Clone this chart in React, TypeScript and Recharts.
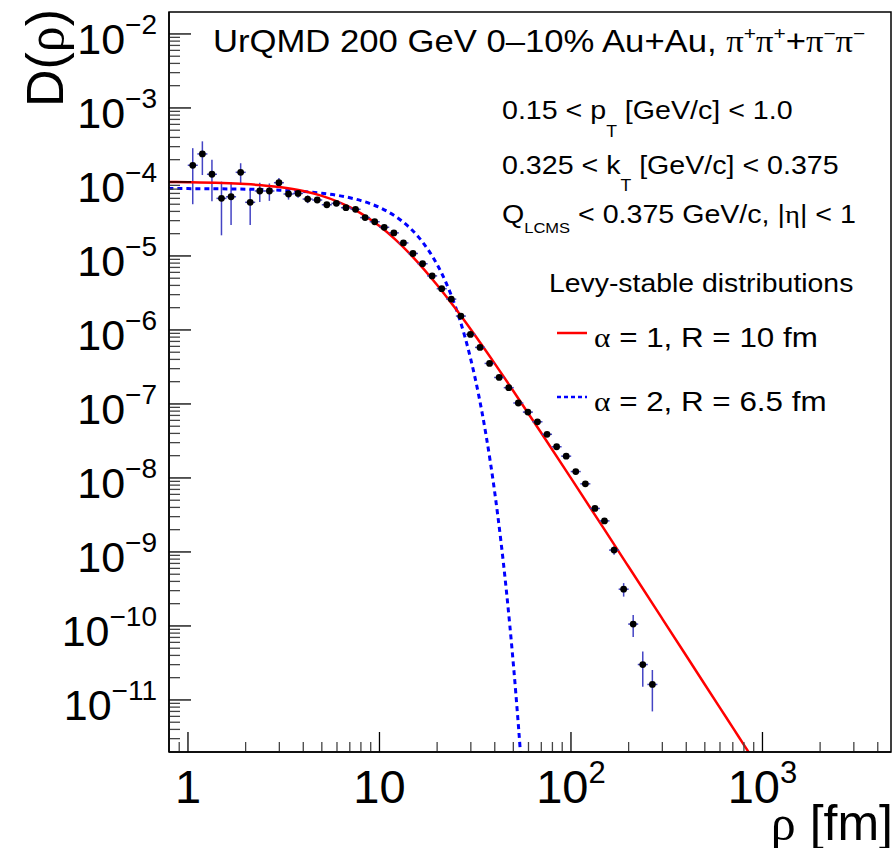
import React from 'react';
import { ComposedChart, Line, Scatter, XAxis, YAxis, ErrorBar } from 'recharts';

// UrQMD data points: rho [fm], D(rho), error
const rho = [1.059, 1.189, 1.334, 1.496, 1.679, 1.884, 2.113, 2.371, 2.661, 2.985, 3.35, 3.758, 4.217, 4.732, 5.309, 5.957, 6.683, 7.499, 8.414, 9.441, 10.59, 11.89, 13.34, 14.96, 16.79, 18.84, 21.13, 23.71, 26.61, 29.85, 33.5, 37.58, 42.17, 47.32, 53.09, 59.57, 66.83, 74.99, 84.14, 94.41, 105.9, 118.9, 133.4, 149.6, 167.9, 188.4, 211.3, 237.1, 266.1];
const dVal = [1.68e-4, 2.39e-4, 1.27e-4, 6.0e-5, 6.31e-5, 1.35e-4, 5.31e-5, 7.55e-5, 7.55e-5, 9.77e-5, 6.87e-5, 7.0e-5, 5.87e-5, 5.7e-5, 4.92e-5, 5.14e-5, 4.49e-5, 4.27e-5, 3.3e-5, 2.9e-5, 2.44e-5, 2.05e-5, 1.5e-5, 1.08e-5, 7.85e-6, 5.38e-6, 3.61e-6, 2.61e-6, 1.54e-6, 8.71e-7, 5.81e-7, 3.53e-7, 2.28e-7, 1.66e-7, 1.03e-7, 7.76e-8, 5.74e-8, 3.89e-8, 2.64e-8, 1.97e-8, 1.22e-8, 8.33e-9, 3.87e-9, 2.63e-9, 1.06e-9, 3.14e-10, 1.06e-10, 3.01e-11, 1.62e-11];
const dErr = [1.18e-4, 1.15e-4, 7.2e-5, 4.1e-5, 3.7e-5, 4.4e-5, 2.7e-5, 2.2e-5, 2.0e-5, 1.5e-5, 1.1e-5, 9e-6, 7e-6, 5e-6, 4e-6, 3.5e-6, 3e-6, 2.5e-6, 1.8e-6, 1.4e-6, 8e-7, 6e-7, 4e-7, 2.6e-7, 1.7e-7, 1.1e-7, 7e-8, 5e-8, 3e-8, 1.7e-8, 1.2e-8, 8e-9, 5e-9, 4e-9, 2.5e-9, 2e-9, 1.6e-9, 1.2e-9, 9e-10, 7e-10, 5e-10, 4e-10, 2.5e-10, 2e-10, 1.4e-10, 6.5e-11, 3.5e-11, 1.5e-11, 9.2e-12];

// Levy alpha = 1, R = 10 fm
const redRho = [0.79, 1, 2, 3, 4, 5, 6, 7, 8, 10, 12, 15, 20, 25, 30, 40, 50, 70, 100, 150, 200, 300, 400, 500, 600, 700, 800, 900];
const redVal = [1.0007e-4, 9.932e-5, 9.368e-5, 8.528e-5, 7.53e-5, 6.485e-5, 5.478e-5, 4.564e-5, 3.767e-5, 2.533e-5, 1.702e-5, 9.593e-6, 4.053e-6, 1.928e-6, 1.013e-6, 3.506e-7, 1.499e-7, 4.053e-8, 9.932e-9, 1.984e-9, 6.301e-10, 1.248e-10, 3.953e-11, 1.62e-11, 7.814e-12, 4.218e-12, 2.473e-12, 1.544e-12];

// Levy alpha = 2, R = 6.5 fm
const blueRho = [0.79, 1, 2, 3, 4, 5, 6, 7, 8, 9, 10, 12, 14, 16, 18, 20, 22, 25, 28, 30, 33, 36, 40, 43, 46, 50, 53, 56, 60];
const blueVal = [8.144e-5, 8.126e-5, 7.983e-5, 7.75e-5, 7.436e-5, 7.05e-5, 6.606e-5, 6.117e-5, 5.597e-5, 5.062e-5, 4.523e-5, 3.486e-5, 2.563e-5, 1.797e-5, 1.202e-5, 7.665e-6, 4.662e-6, 2.024e-6, 7.904e-7, 3.979e-7, 1.3e-7, 3.823e-8, 6.328e-9, 1.45e-9, 2.986e-10, 3.078e-11, 4.942e-12, 7.14e-13, 4.58e-14];

// Axis ticks
const xMajor = [1, 10, 100, 1000];
const xMinor = [0.9, 2, 3, 4, 5, 6, 7, 8, 9, 20, 30, 40, 50, 60, 70, 80, 90, 200, 300, 400, 500, 600, 700, 800, 900, 2000, 3000, 4000];
const yMajor = [1e-11, 1e-10, 1e-9, 1e-8, 1e-7, 1e-6, 1e-5, 1e-4, 1e-3, 1e-2];
const yDecades = [1e-12, 1e-11, 1e-10, 1e-9, 1e-8, 1e-7, 1e-6, 1e-5, 1e-4, 1e-3];
const yMult = [2, 3, 4, 5, 6, 7, 8, 9];

const XMIN = 0.796;
const XMAX = 4690;
const YMIN = 1.98e-12;
const YMAX = 0.0198;

const SANS = '"Liberation Sans", Arial, Helvetica, sans-serif';
const SERIF = '"Liberation Serif", "Times New Roman", serif';
const ERR = '#4444c4';

const points = rho.map((x, i) => ({ x, y: dVal[i], err: dErr[i] }));
const redData = redRho.map((x, i) => ({ x, y: redVal[i] }));
const blueData = blueRho.map((x, i) => ({ x, y: blueVal[i] }));
const yMinor = yDecades.flatMap((d) => yMult.map((m) => m * d)).filter((v) => v > YMIN && v < YMAX);
const yTicks = [...yMajor, ...yMinor];
const xTicks = [...xMajor, ...xMinor];

const isMajor = (v: number) => {
  const l = Math.log10(v);
  return Math.abs(l - Math.round(l)) < 1e-6;
};

const YTick = (props: any) => {
  const { x, y, payload } = props;
  const v = payload.value;
  const major = isMajor(v);
  const e = Math.round(Math.log10(v));
  return (
    <g>
      <line x1={x} x2={x + (major ? 22 : 11)} y1={y} y2={y} stroke={major ? '#000' : '#444'} strokeWidth={1.3} />
      {major && (
        <text x={x - 12} y={y + 20} textAnchor="end" fontSize={43} fontFamily={SANS} fill="#000">
          10<tspan fontSize={28} dy={-20}>{'\u2212' + String(-e)}</tspan>
        </text>
      )}
    </g>
  );
};

const XTick = (props: any) => {
  const { x, y, payload } = props;
  const v = payload.value;
  const major = isMajor(v);
  const e = Math.round(Math.log10(v));
  return (
    <g>
      <line x1={x} x2={x} y1={y} y2={y - (major ? 20 : 10)} stroke={major ? '#000' : '#444'} strokeWidth={1.3} />
      {major && (
        <text x={x} y={y + 51} textAnchor="middle" fontSize={47} fontFamily={SANS} fill="#000">
          {e === 0 ? '1' : e === 1 ? '10' : (
            <>
              10<tspan fontSize={31} dy={-20}>{String(e)}</tspan>
            </>
          )}
        </text>
      )}
    </g>
  );
};

const PointShape = (props: any) => {
  const { cx, cy } = props;
  if (cx == null || cy == null) return null;
  return (
    <g>
      <line x1={cx - 5} x2={cx + 5} y1={cy} y2={cy} stroke={ERR} strokeWidth={1.5} />
      <circle cx={cx} cy={cy} r={3.4} fill="#000" />
    </g>
  );
};

export default function App() {
  return (
    <div style={{ position: 'absolute', left: 0, top: 0, width: 896, height: 848, background: '#fff', fontFamily: SANS }}>
      <ComposedChart width={896} height={848} margin={{ top: 12, right: 5, bottom: 0, left: 0 }}>
        <XAxis
          dataKey="x"
          type="number"
          scale="log"
          domain={[XMIN, XMAX]}
          allowDataOverflow
          ticks={xTicks}
          interval={0}
          tick={<XTick />}
          tickSize={0}
          tickMargin={0}
          height={96}
          axisLine={{ stroke: '#000', strokeWidth: 1.5 }}
          tickLine={false}
        />
        <YAxis
          dataKey="y"
          type="number"
          scale="log"
          domain={[YMIN, YMAX]}
          allowDataOverflow
          ticks={yTicks}
          interval={0}
          tick={<YTick />}
          tickSize={0}
          tickMargin={0}
          width={169}
          axisLine={{ stroke: '#000', strokeWidth: 1.5 }}
          tickLine={false}
        />
        <Scatter data={points} dataKey="y" shape={<PointShape />} isAnimationActive={false}>
          <ErrorBar dataKey="err" direction="y" width={0} stroke={ERR} strokeWidth={1.5} />
        </Scatter>
        <Line data={blueData} dataKey="y" type="monotone" stroke="#0000ff" strokeWidth={3} strokeDasharray="5 4" dot={false} isAnimationActive={false} />
        <Line data={redData} dataKey="y" type="monotone" stroke="#ff0000" strokeWidth={2.5} dot={false} isAnimationActive={false} />
      </ComposedChart>
      <svg width={896} height={848} style={{ position: 'absolute', left: 0, top: 0, pointerEvents: 'none' }} fontFamily={SANS}>
        <rect x={169} y={12} width={722} height={740} fill="none" stroke="#000" strokeWidth={1.5} />
        <g transform="translate(213,52) scale(1.1,1)">
          <text x={0} y={0} fontSize={31.5} fill="#000">
            {'UrQMD 200 GeV 0\u201310% Au+Au, '}
            <tspan fontFamily={SERIF}>π</tspan>
            <tspan fontSize={19} dy={-12}>+</tspan>
            <tspan fontFamily={SERIF} dy={12}>π</tspan>
            <tspan fontSize={19} dy={-12}>+</tspan>
            <tspan dy={12}>+</tspan>
            <tspan fontFamily={SERIF}>π</tspan>
            <tspan fontSize={19} dy={-12}>{'\u2212'}</tspan>
            <tspan fontFamily={SERIF} dy={12}>π</tspan>
            <tspan fontSize={19} dy={-12}>{'\u2212'}</tspan>
          </text>
        </g>
        <g transform="translate(502,119) scale(1.1,1)">
          <text x={0} y={0} fontSize={26} fill="#000">
            {'0.15 < p'}
            <tspan fontSize={16} dy={18}>T</tspan>
            <tspan dy={-18}>{' [GeV/c] < 1.0'}</tspan>
          </text>
        </g>
        <g transform="translate(502,174) scale(1.1,1)">
          <text x={0} y={0} fontSize={26} fill="#000">
            {'0.325 < k'}
            <tspan fontSize={16} dy={17}>T</tspan>
            <tspan dy={-17}>{' [GeV/c] < 0.375'}</tspan>
          </text>
        </g>
        <g transform="translate(502,223) scale(1.1,1)">
          <text x={0} y={0} fontSize={26} fill="#000">
            {'Q'}
            <tspan fontSize={15} dy={10}>LCMS</tspan>
            <tspan dy={-10}>{' < 0.375 GeV/c, |'}</tspan>
            <tspan fontFamily={SERIF}>η</tspan>
            <tspan>{'| < 1'}</tspan>
          </text>
        </g>
        <g transform="translate(549,292) scale(1.1,1)">
          <text x={0} y={0} fontSize={25.8} fill="#000">Levy-stable distributions</text>
        </g>
        <line x1={557} x2={587} y1={333} y2={333} stroke="#ff0000" strokeWidth={2.5} />
        <g transform="translate(594,347) scale(1.12,1)">
          <text x={0} y={0} fontSize={28} fill="#000">
            <tspan fontFamily={SERIF}>α</tspan>
            <tspan>{' = 1, R = 10 fm'}</tspan>
          </text>
        </g>
        <line x1={557} x2={587} y1={397} y2={397} stroke="#0000ff" strokeWidth={2.5} strokeDasharray="4 3" />
        <g transform="translate(594,411) scale(1.12,1)">
          <text x={0} y={0} fontSize={28} fill="#000">
            <tspan fontFamily={SERIF}>α</tspan>
            <tspan>{' = 2, R = 6.5 fm'}</tspan>
          </text>
        </g>
        <text transform="translate(63,107) rotate(-90)" fontSize={52} fill="#000">
          {'D('}
          <tspan fontFamily={SERIF}>ρ</tspan>
          <tspan>{')'}</tspan>
        </text>
        <text x={893} y={840} textAnchor="end" fontSize={50} fill="#000">
          <tspan fontFamily={SERIF}>ρ</tspan>
          <tspan>{' [fm]'}</tspan>
        </text>
      </svg>
    </div>
  );
}
